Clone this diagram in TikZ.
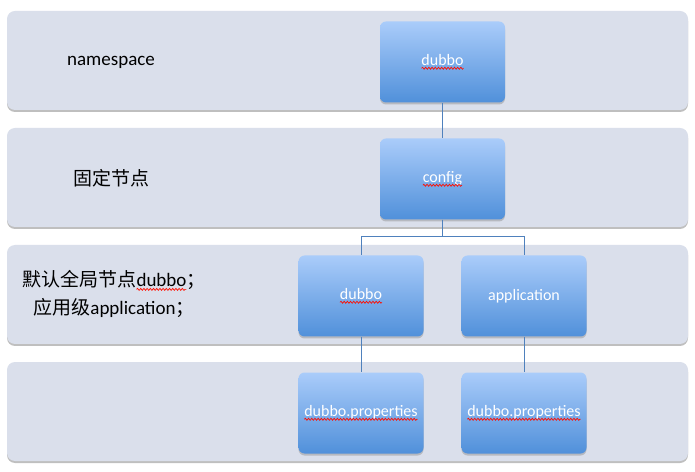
\documentclass[tikz,border=0pt]{standalone}
\usepackage{fontspec}
\setmainfont{Carlito}
\newfontfamily\cjk{Noto Sans CJK SC}
\usetikzlibrary{shadows,decorations.pathmorphing}

\definecolor{bandfill}{RGB}{218,223,235}
\definecolor{boxtop}{RGB}{170,204,250}
\definecolor{boxbot}{RGB}{80,144,218}
\definecolor{linkblue}{RGB}{79,129,189}
\newcommand{\typo}[1]{\tikz[baseline=(w.base)]{\node[inner sep=0pt,outer sep=0pt] (w) {#1};
    \draw[red!90!orange,line width=.7pt,decorate,decoration={snake,amplitude=1pt,segment length=3.2pt}]
        ([yshift=-2.8pt]w.base west) -- ([yshift=-2.8pt]w.base east);}}

\begin{document}
\begin{tikzpicture}[x=1pt,y=1pt,node distance=117pt,
    band/.style={rounded corners=8pt,fill=bandfill,minimum width=681pt,minimum height=99pt,
        drop shadow={shadow xshift=0pt,shadow yshift=-2pt,fill=black!50,opacity=.5}},
    box/.style={rounded corners=6pt,top color=boxtop,bottom color=boxbot,minimum width=125pt,minimum height=81pt,
        drop shadow={shadow xshift=0pt,shadow yshift=-2pt,fill=black!50,opacity=.4}},
    boxtext/.style={text=white,font=\fontsize{16}{18}\selectfont},
    lbl/.style={font=\fontsize{19}{28}\selectfont,align=center},
    link/.style={draw=linkblue,line width=1pt}]
        \fill[white] (0,0) rectangle (695,471);
        \useasboundingbox (0,0) rectangle (695,471);

        % layers
        \node[band] (ns) at (347.5,410.5) {};
        \node[band] (fixed) [below of=ns] {};
        \node[band] (global) [below of=fixed] {};
        \node[band] (props) [below of=global] {};

        \node[lbl] (nsLbl) at (111,409) {namespace};
        \node[lbl] (fixedLbl) at (111,293) {\cjk 固定节点};
        \node[lbl] (globalLbl) at (114,177) {{\cjk 默认全局节点}\typo{dubbo}{\cjk ；}\\{\cjk 应用级}application{\cjk ；}};

        % boxes
        \node[box] (root) at (442.5,409) {};
        \node[box] (config) [below of=root] {};
        \node[box] (dubbo) [below of=config,xshift=-81.5pt] {};
        \node[box] (app) [below of=config,xshift=81.5pt] {};
        \node[box] (dubboProps) [below of=dubbo] {};
        \node[box] (appProps) [below of=app] {};

        \node[boxtext] (rootTxt) at (root) {\typo{dubbo}};
        \node[boxtext] (configTxt) at (config) {\typo{config}};
        \node[boxtext] (dubboTxt) at (dubbo) {\typo{dubbo}};
        \node[boxtext] (appTxt) at (app) {application};
        \node[boxtext] (dubboPropsTxt) at (dubboProps) {\typo{dubbo.properties}};
        \node[boxtext] (appPropsTxt) at (appProps) {\typo{dubbo.properties}};

        \draw[link] (root) -- (config);
        \draw[link] (config.south) -- ++(0,-17) -| (dubbo.north);
        \draw[link] (config.south) -- ++(0,-17) -| (app.north);
        \draw[link] (dubbo) -- (dubboProps);
        \draw[link] (app) -- (appProps);
\end{tikzpicture}
\end{document}
